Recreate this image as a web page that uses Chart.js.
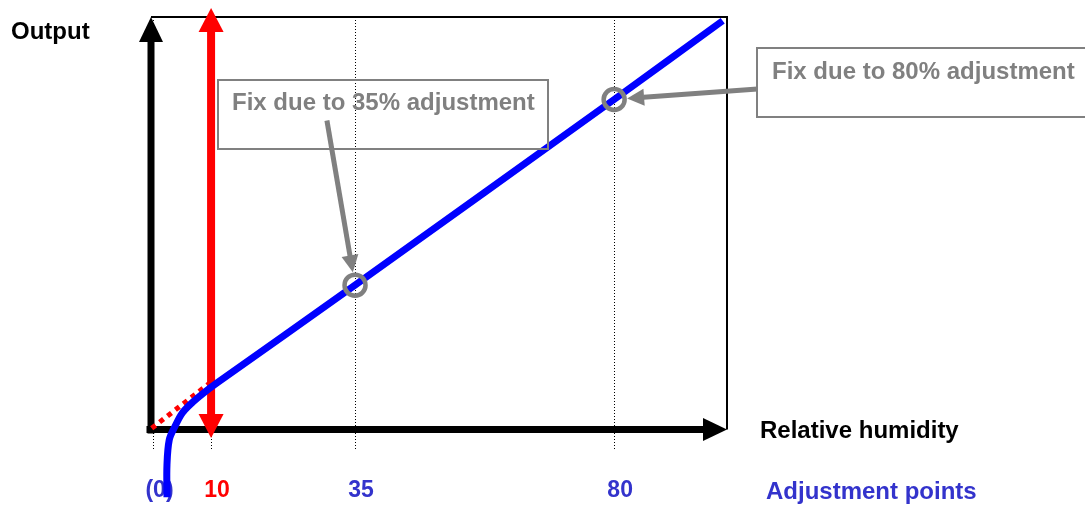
<!DOCTYPE html>
<html lang="en">
<head>
<meta charset="UTF-8">
<title>Relative humidity adjustment</title>
<script src="https://cdn.jsdelivr.net/npm/chart.js@4"></script>
<style>
    html, body { margin: 0; padding: 0; background: #fff; }
    #humChart { display: block; }
</style>
</head>
<body>
<canvas id="humChart" width="1085" height="508"></canvas>
<script>
// Points d'ajustement sur l'axe X
const tickValues = [0, 10, 35, 80];
const tickLabels = ['(0)', '10', '35', '80'];
const tickColors = ['#3333CC', '#FF0000', '#3333CC', '#3333CC'];

// Courbe de sortie (bleue)
const outputX = [2.34, 2.34, 2.74, 3.68, 5.0, 6.63, 8.65, 11.03, 35, 80, 98.85];
const outputY = [-16.4, -8.6, -2.5, 0.6, 4.0, 6.4, 8.8, 11.3, 35, 80, 99.1];

// Extrapolation linéaire (pointillés rouges)
const dottedX = [-0.31, 10];
const dottedY = [0.3, 11.5];

// Points corrigés par l'ajustement (cercles gris)
const fixX = [35, 80];
const fixY = [35, 80];
const fixLabels = ['Fix due to 35% adjustment', 'Fix due to 80% adjustment'];

// Double flèche rouge à 10 %
const redArrowX = 10;
const redArrowY = [-2.06, 102.2];

const FONT = 'bold 24px "Liberation Sans", Arial, sans-serif';
const GRAY = '#808080';

// Flèche pleine (tige + pointe), éventuellement double
function drawArrow(ctx, x1, y1, x2, y2, w, hl, hw, color, both) {
    const ang = Math.atan2(y2 - y1, x2 - x1);
    const len = Math.hypot(x2 - x1, y2 - y1);
    const s = both ? hl : 0;
    ctx.save();
    ctx.translate(x1, y1);
    ctx.rotate(ang);
    ctx.fillStyle = color;
    ctx.fillRect(s - 0.5, -w / 2, len - hl - s + 1, w);
    ctx.beginPath();
    ctx.moveTo(len, 0);
    ctx.lineTo(len - hl, -hw / 2);
    ctx.lineTo(len - hl, hw / 2);
    ctx.closePath();
    ctx.fill();
    if (both) {
        ctx.beginPath();
        ctx.moveTo(0, 0);
        ctx.lineTo(hl, -hw / 2);
        ctx.lineTo(hl, hw / 2);
        ctx.closePath();
        ctx.fill();
    }
    ctx.restore();
}

// Plugin : cadre, axes fléchés, encadrés et textes
const diagram = {
    id: 'diagram',
    beforeDatasetsDraw(chart) {
        const { ctx, chartArea: a, scales: { x, y } } = chart;
        ctx.save();
        ctx.strokeStyle = '#000';
        ctx.lineWidth = 2;
        ctx.beginPath();
        ctx.moveTo(a.left, a.top);
        ctx.lineTo(a.right, a.top);
        ctx.lineTo(a.right, a.bottom);
        ctx.stroke();

        const y0 = y.getPixelForValue(0);
        drawArrow(ctx, a.left, y0 + 3.5, a.left, a.top, 7, 25, 24, '#000');
        drawArrow(ctx, a.left - 4, y0, a.right, y0, 7, 24, 23, '#000');

        const rx = x.getPixelForValue(redArrowX);
        drawArrow(ctx, rx, y.getPixelForValue(redArrowY[0]), rx, y.getPixelForValue(redArrowY[1]), 8, 24, 25, '#FF0000', true);
        ctx.restore();
    },
    afterDatasetsDraw(chart) {
        const { ctx, chartArea: a, scales: { x, y } } = chart;
        ctx.save();
        ctx.font = FONT;
        ctx.textBaseline = 'alphabetic';
        const boxes = [
            { l: 218, t: 80, r: 548, b: 149, tx: 232, ty: 110, tail: [327, 121] },
            { l: 757, t: 48, r: 1100, b: 117, tx: 772, ty: 79, tail: [757, 89] }
        ];
        boxes.forEach((bx, i) => {
            ctx.strokeStyle = GRAY;
            ctx.lineWidth = 2;
            ctx.strokeRect(bx.l, bx.t, bx.r - bx.l, bx.b - bx.t);
            ctx.fillStyle = GRAY;
            ctx.fillText(fixLabels[i], bx.tx, bx.ty);
            const cx = x.getPixelForValue(fixX[i]);
            const cy = y.getPixelForValue(fixY[i]);
            const [tx, ty] = bx.tail;
            const d = Math.hypot(cx - tx, cy - ty);
            const k = (d - 13) / d;
            drawArrow(ctx, tx, ty, tx + (cx - tx) * k, ty + (cy - ty) * k, 5, 17, 17, GRAY);
        });

        const y0 = y.getPixelForValue(0);
        ctx.fillStyle = '#000';
        ctx.fillText('Output', 11, a.top + 22);
        ctx.fillText('Relative humidity', a.right + 33, y0 + 8.5);
        ctx.fillStyle = '#3333CC';
        ctx.fillText('Adjustment points', a.right + 39, 499);
        ctx.restore();
    }
};

const ctx = document.getElementById('humChart').getContext('2d');
const humChart = new Chart(ctx, {
    type: 'line',
    data: {
        datasets: [{
            // cercles gris
            data: fixX.map((v, i) => ({ x: v, y: fixY[i] })),
            showLine: false,
            pointRadius: 10.5,
            pointBorderWidth: 4.5,
            pointBorderColor: GRAY,
            pointBackgroundColor: 'rgba(0,0,0,0)',
            clip: false
        }, {
            // sortie
            data: outputX.map((v, i) => ({ x: v, y: outputY[i] })),
            borderColor: '#0000FF',
            borderWidth: 7,
            borderCapStyle: 'butt',
            tension: 0.35,
            pointRadius: 0,
            fill: false,
            clip: false
        }, {
            // extrapolation pointillée
            data: dottedX.map((v, i) => ({ x: v, y: dottedY[i] })),
            borderColor: '#FF0000',
            borderWidth: 5,
            borderDash: [5, 5],
            borderCapStyle: 'butt',
            pointRadius: 0,
            fill: false,
            clip: false
        }]
    },
    options: {
        responsive: false,
        animation: false,
        devicePixelRatio: 1,
        layout: { padding: { left: 151, right: 358, top: 17, bottom: 0 } },
        plugins: {
            legend: { display: false },
            tooltip: { enabled: false }
        },
        scales: {
            x: {
                type: 'linear',
                min: -0.434,
                max: 99.6,
                afterBuildTicks: s => { s.ticks = tickValues.map(v => ({ value: v })); },
                afterFit: s => { s.height = 78.5; },
                border: { display: false, dash: [1, 2] },
                grid: {
                    color: '#000',
                    lineWidth: 1,
                    tickLength: 21,
                    tickColor: '#000',
                    tickWidth: 1,
                    tickBorderDash: [1, 2]
                },
                ticks: {
                    padding: 26,
                    labelOffset: 6,
                    autoSkip: false,
                    maxRotation: 0,
                    color: tickColors,
                    font: { family: '"Liberation Sans", Arial, sans-serif', size: 23, weight: 'bold', lineHeight: 1.2 },
                    callback: (v, i) => tickLabels[i]
                }
            },
            y: { display: false, min: 0, max: 100 }
        }
    },
    plugins: [diagram]
});
</script>
</body>
</html>
